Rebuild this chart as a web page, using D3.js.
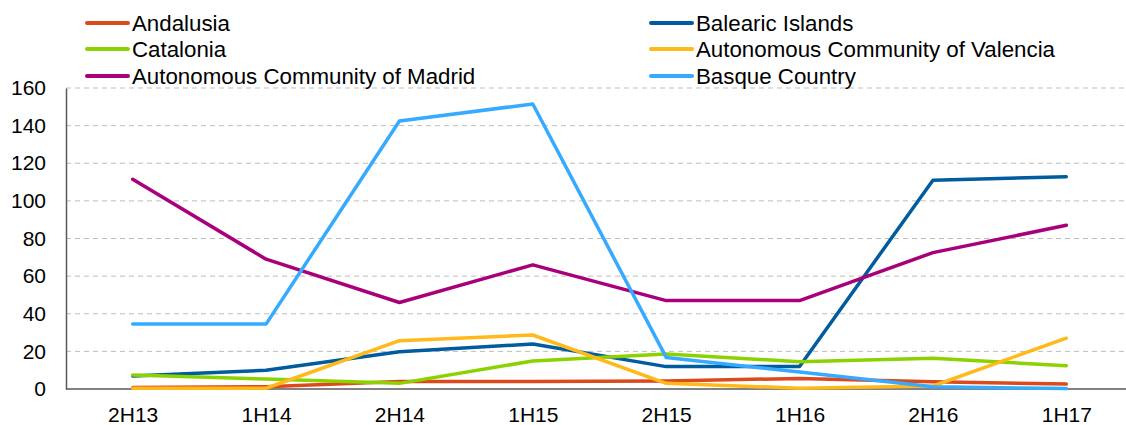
<!DOCTYPE html>
<html>
<head>
<meta charset="utf-8">
<script src="https://cdn.jsdelivr.net/npm/d3@7"></script>
<style>
  body { margin: 0; background: #fff; }
  svg { display: block; font-family: "Liberation Sans", Arial, sans-serif; }
</style>
</head>
<body>
<svg id="chart" width="1126" height="425"></svg>
<script>
const categories = ["2H13", "1H14", "2H14", "1H15", "2H15", "1H16", "2H16", "1H17"];
const yTicks = [0, 20, 40, 60, 80, 100, 120, 140, 160];

const andalusia = [0.8, 1.2, 4.0, 4.0, 4.3, 5.6, 3.8, 2.6];
const balearic = [6.9, 10.0, 19.8, 23.9, 11.9, 12.0, 111.0, 112.8];
const catalonia = [7.4, 5.3, 3.0, 14.9, 18.6, 14.5, 16.3, 12.4];
const valencia = [0.4, 0.4, 25.7, 28.7, 3.0, 0.4, 1.6, 27.0];
const madrid = [111.5, 69.0, 46.0, 66.0, 47.0, 47.0, 72.5, 87.0];
const basque = [34.5, 34.5, 142.5, 151.5, 16.8, 9.0, 1.2, 0.2];

const seriesNames = ["Andalusia", "Balearic Islands", "Catalonia", "Autonomous Community of Valencia", "Autonomous Community of Madrid", "Basque Country"];
const seriesValues = [andalusia, balearic, catalonia, valencia, madrid, basque];
const seriesColors = ["#DC4A1C", "#005C9E", "#8CD200", "#FFB91A", "#A8007A", "#35AAFF"];

const svg = d3.select("#chart");
const x = d3.scalePoint().domain(categories).range([66, 1133]).padding(0.5);
const y = d3.scaleLinear().domain([0, 160]).range([389, 88]);

// gridlines
svg.append("g").selectAll("line").data(yTicks.filter(d => d > 0)).join("line")
  .attr("x1", 66).attr("x2", 1126)
  .attr("y1", d => y(d)).attr("y2", d => y(d))
  .attr("stroke", "#bdbdbd").attr("stroke-width", 1)
  .attr("stroke-dasharray", "5,4");

// y axis
const yAxis = svg.append("g").attr("transform", "translate(66,0)")
  .call(d3.axisLeft(y).tickValues(yTicks).tickSize(0).tickPadding(20));
yAxis.select(".domain").attr("stroke", "#595959").attr("stroke-width", 1.5);
yAxis.selectAll("text").attr("font-size", 21).attr("fill", "#000")
  .attr("font-family", "Liberation Sans, Arial, sans-serif");

// x axis
const xAxis = svg.append("g").attr("transform", "translate(0,389)")
  .call(d3.axisBottom(x).tickSize(0).tickPadding(18));
xAxis.select(".domain").attr("stroke", "#595959").attr("stroke-width", 1.5)
  .attr("d", "M66,0H1126");
xAxis.selectAll("text").attr("font-size", 21).attr("fill", "#000")
  .attr("font-family", "Liberation Sans, Arial, sans-serif");

// lines
const line = d3.line().x((d, i) => x(categories[i])).y(d => y(d));
seriesValues.forEach((vals, k) => {
  svg.append("path").datum(vals)
    .attr("d", line)
    .attr("fill", "none")
    .attr("stroke", seriesColors[k])
    .attr("stroke-width", 3.5)
    .attr("stroke-linejoin", "round")
    .attr("stroke-linecap", "round");
});

// legend
const legendPos = [
  [87, 23], [651, 23],
  [87, 49], [651, 49],
  [87, 76], [651, 76]
];
seriesNames.forEach((name, k) => {
  const [lx, ly] = legendPos[k];
  const g = svg.append("g");
  g.append("line").attr("x1", lx).attr("x2", lx + 41).attr("y1", ly).attr("y2", ly)
    .attr("stroke", seriesColors[k]).attr("stroke-width", 4).attr("stroke-linecap", "round");
  g.append("text").attr("x", lx + 45).attr("y", ly).attr("dy", "0.35em")
    .attr("font-size", 22.3).attr("fill", "#000").text(name);
});
</script>
</body>
</html>
